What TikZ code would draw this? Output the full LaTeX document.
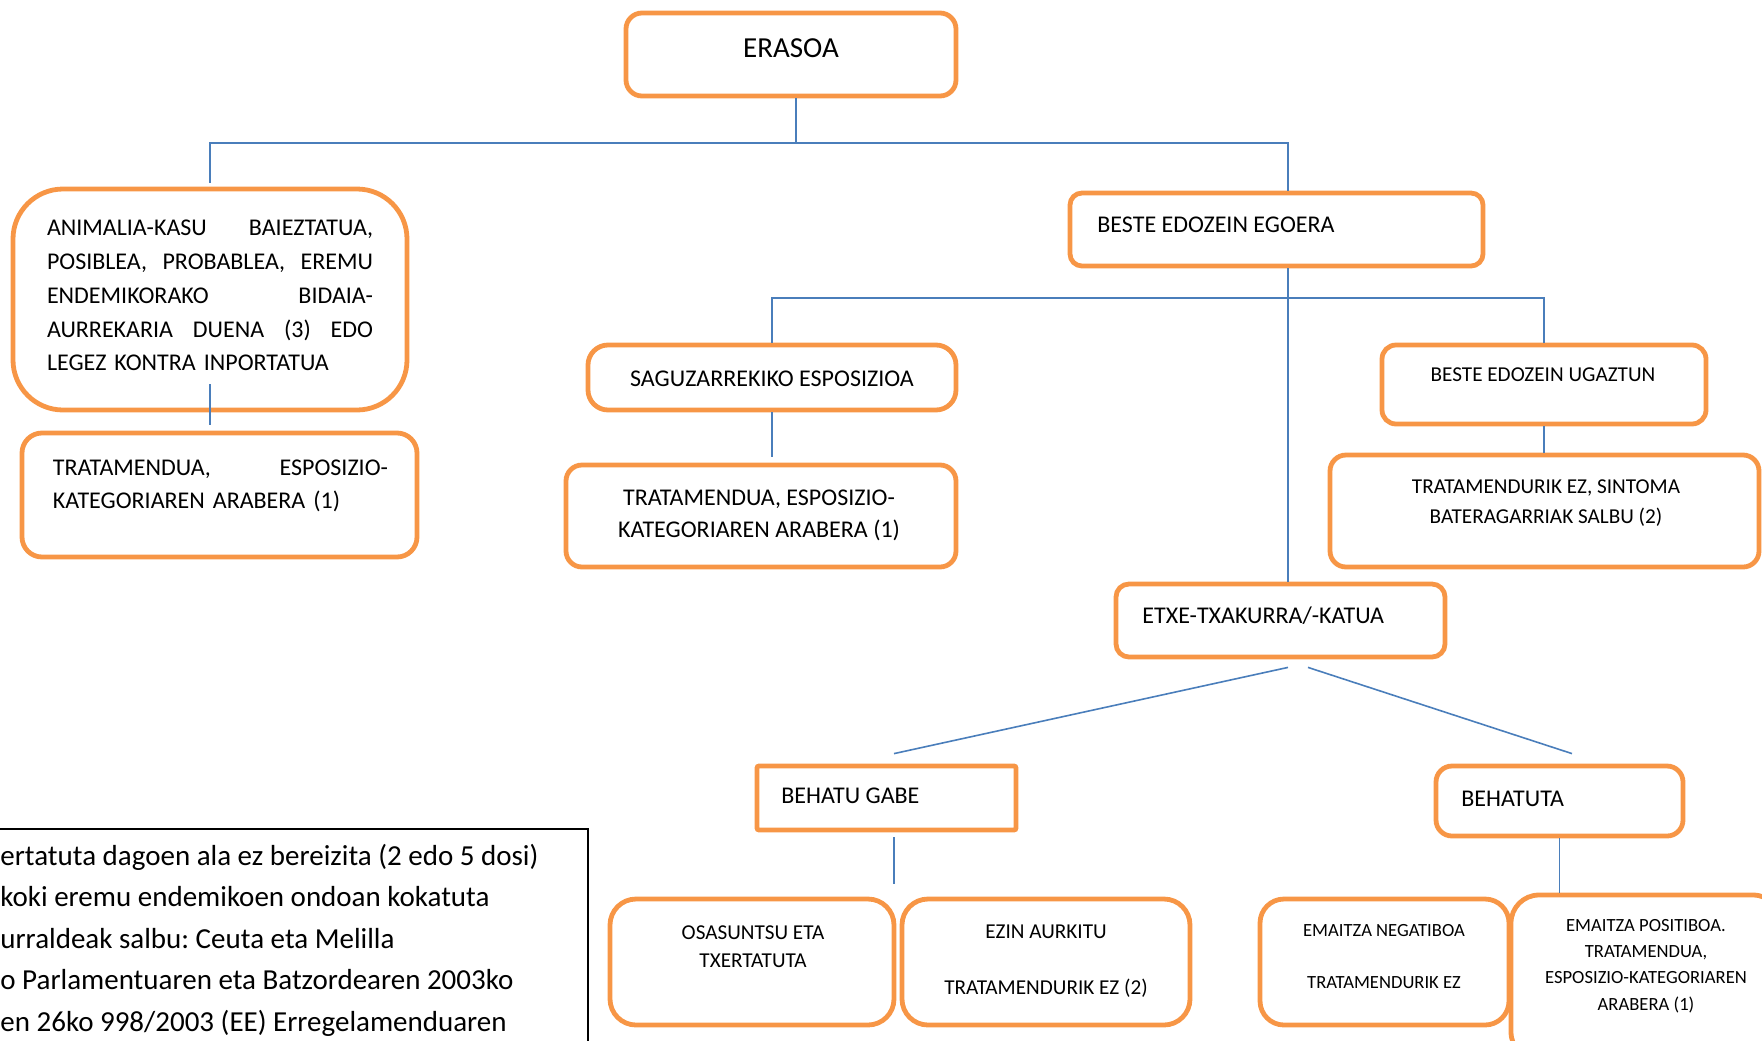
\documentclass[tikz,border=0pt]{standalone}
\usepackage{fontspec}
\setmainfont{Carlito}
\usepackage{tikz}
\definecolor{boxorange}{RGB}{247,150,70}
\definecolor{linkblue}{RGB}{74,126,187}
\frenchspacing
\tikzset{box/.style={draw=boxorange, line width=2.4pt, inner sep=0pt},
 link/.style={draw=linkblue, line width=0.8pt},
 lbl/.style={inner sep=0pt, font=\fontsize{12}{16.5}\selectfont},
 small/.style={inner sep=0pt, align=center, font=\fontsize{10.6}{14}\selectfont},
 tiny/.style={inner sep=0pt, align=center, font=\fontsize{9.3}{13.2}\selectfont},
 note/.style={inner sep=0pt, font=\fontsize{14.5}{20}\selectfont},
 }

\begin{document}
\begin{tikzpicture}[x=0.5pt,y=-0.5pt]
        \useasboundingbox (0,0) rectangle (1762,1040);
        \clip (0,0) rectangle (1762,1040);

        \node[box, rounded corners=8pt, minimum width=165pt, minimum height=41.5pt] (erasoa) at (791,54.5) {};
        \node[box, rounded corners=25pt, minimum width=197pt, minimum height=110.5pt] (animalia) at (210,299.5) {};
        \node[box, rounded corners=10pt, minimum width=197.5pt, minimum height=62pt] (trat1) at (219.5,495) {};
        \node[box, rounded corners=6pt, minimum width=206.5pt, minimum height=36.5pt] (beste) at (1276.5,229.5) {};
        \node[box, rounded corners=10pt, minimum width=184pt, minimum height=32.5pt] (saguz) at (772,377.5) {};
        \node[box, rounded corners=8pt, minimum width=195pt, minimum height=51pt] (trat2) at (761,516) {};
        \node[box, rounded corners=7pt, minimum width=162pt, minimum height=39.5pt] (ugaztun) at (1544,384.5) {};
        \node[box, rounded corners=8pt, minimum width=214.5pt, minimum height=56pt] (sintoma) at (1544.5,511) {};
        \node[box, rounded corners=6.5pt, minimum width=164.5pt, minimum height=36.5pt] (etxe) at (1280.5,620.5) {};
        \node[box, rounded corners=1pt, minimum width=129.5pt, minimum height=32pt] (behatugabe) at (886.5,798) {};
        \node[box, rounded corners=8pt, minimum width=123.5pt, minimum height=35pt] (behatuta) at (1559.5,801) {};
        \node[box, rounded corners=13pt, minimum width=142pt, minimum height=63pt] (osasun) at (752,962) {};
        \node[box, rounded corners=13pt, minimum width=144pt, minimum height=63pt] (ezin) at (1046,962) {};
        \node[box, rounded corners=12pt, minimum width=124.5pt, minimum height=63pt] (negatiboa) at (1384.5,962) {};
        \node[box, rounded corners=14pt, minimum width=135pt, minimum height=82.5pt] (positiboa) at (1646,977.5) {};
        \node[draw, line width=0.6pt, minimum width=304pt, minimum height=135.5pt, inner sep=0pt] (notes) at (284,964.5) {};

        \node[lbl, font=\fontsize{14.5}{17}\selectfont] (erasoa-t) at (791,48) {ERASOA};
        \node[lbl, text width=163pt, align=left, font=\fontsize{12}{16.9}\selectfont] (animalia-t) at (210,295.5) {ANIMALIA-KASU\hfill BAIEZTATUA,\\POSIBLEA,\hfill PROBABLEA,\hfill EREMU\\ENDEMIKORAKO\hfill BIDAIA-\\AURREKARIA\hfill DUENA\hfill (3)\hfill EDO\\LEGEZ KONTRA INPORTATUA};
        \node[lbl, text width=167.5pt, align=left] (trat1-t) at (220.5,486) {TRATAMENDUA,\hfill ESPOSIZIO-\\KATEGORIAREN ARABERA (1)};
        \node[lbl, anchor=west] (beste-t) at (1097,225) {BESTE EDOZEIN EGOERA};
        \node[lbl] (saguz-t) at (772,379) {SAGUZARREKIKO ESPOSIZIOA};
        \node[lbl, align=center, font=\fontsize{12}{16}\selectfont] (trat2-t) at (759,515) {TRATAMENDUA, ESPOSIZIO-\\KATEGORIAREN ARABERA (1)};
        \node[small] (ugaztun-t) at (1543,375) {BESTE EDOZEIN UGAZTUN};
        \node[small, font=\fontsize{10.6}{15}\selectfont] (sintoma-t) at (1546,503) {TRATAMENDURIK EZ, SINTOMA\\BATERAGARRIAK SALBU (2)};
        \node[lbl, anchor=west] (etxe-t) at (1142,616) {ETXE-TXAKURRA/-KATUA};
        \node[lbl, anchor=west] (behatugabe-t) at (781,796) {BEHATU GABE};
        \node[lbl, anchor=west] (behatuta-t) at (1461,799) {BEHATUTA};
        \node[small] (osasun-t) at (753,947) {OSASUNTSU ETA\\TXERTATUTA};
        \node[small] (ezin-t) at (1046,961) {EZIN AURKITU\\[14pt]TRATAMENDURIK EZ (2)};
        \node[tiny, font=\fontsize{9.3}{13}\selectfont] (negatiboa-t) at (1384,957) {EMAITZA NEGATIBOA\\[13pt]TRATAMENDURIK EZ};
        \node[tiny] (positiboa-t) at (1646,966) {EMAITZA POSITIBOA.\\TRATAMENDUA,\\ESPOSIZIO-KATEGORIAREN\\ARABERA (1)};

        \foreach \txt [count=\i from 0] in {{ertatuta dagoen ala ez bereizita (2 edo 5 dosi)}, {koki eremu endemikoen ondoan kokatuta}, {urraldeak salbu: Ceuta eta Melilla}, {o Parlamentuaren eta Batzordearen 2003ko}, {en 26ko 998/2003 (EE) Erregelamenduaren}} {
            \node[note, anchor=base west] (note\i) at (0,{865+41.5*\i}) {\txt};
        }

        \coordinate (bus1) at (796,143);
        \coordinate (bus2) at (1288,298);
        \coordinate (spine) at (1288,0);
        \draw[link] (bus1 |- erasoa.south) -- (bus1);
        \draw[link] ([yshift=2pt]animalia.north) |- (bus1) -| (spine |- beste.north);
        \draw[link] ([yshift=14pt]animalia.south) -- ++(0,41);
        \draw[link] (spine |- beste.south) -- (spine |- etxe.north);
        \draw[link] (saguz.north) |- (bus2) -| (ugaztun.north);
        \draw[link] (saguz.south) -- ++(0,45);
        \draw[link] (ugaztun.south) -- (ugaztun.south |- sintoma.north);
        \draw[link] ([xshift=3.75pt,yshift=-4pt]etxe.south) -- ([xshift=3.75pt,yshift=5pt]behatugabe.north);
        \draw[link] ([xshift=13.75pt,yshift=-4pt]etxe.south) -- ([xshift=6.25pt,yshift=5pt]behatuta.north);
        \draw[link] ([xshift=3.75pt,yshift=-2.5pt]behatugabe.south) -- ++(0,47);
        \draw[link] (behatuta.south) -- ++(0,55);
    \end{tikzpicture}
\end{document}
